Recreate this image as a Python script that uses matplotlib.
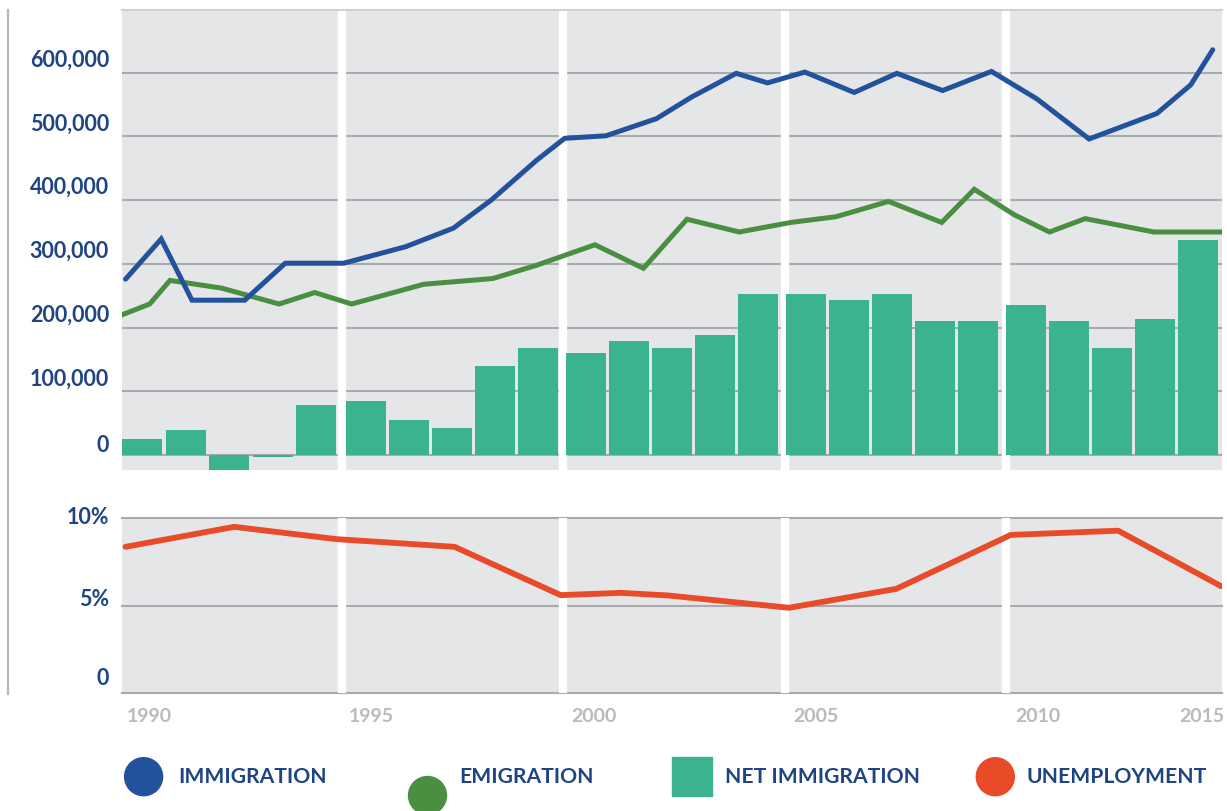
import matplotlib
matplotlib.use("Agg")
import matplotlib.pyplot as plt
from matplotlib import patches, transforms

plt.rcParams['font.family'] = ['Lato', 'DejaVu Sans']

# immigration / emigration lines (year position, persons)
immig_years = [1990.08, 1990.89, 1991.59, 1992.79, 1993.71, 1995.04, 1996.45, 1997.53,
               1998.39, 1999.43, 2000.06, 2001.0, 2002.15, 2002.95, 2003.96, 2004.67,
               2005.52, 2006.64, 2007.61, 2008.65, 2009.76, 2010.79, 2011.98, 2013.52,
               2014.29, 2014.79]
immig = [276000, 339000, 243000, 243000, 301000, 301000, 327000, 356000,
         400000, 463000, 497000, 501000, 528000, 562000, 599000, 584000,
         601000, 569000, 599000, 572000, 602000, 559000, 496000, 536000,
         581000, 636000]

emig_years = [1990.0, 1990.63, 1991.09, 1992.26, 1993.57, 1994.38, 1995.22, 1996.86,
              1998.43, 1999.43, 2000.75, 2001.85, 2002.84, 2004.03, 2005.2, 2006.23,
              2007.42, 2008.63, 2009.37, 2010.28, 2011.08, 2011.89, 2013.45, 2015.0]
emig = [220000, 237000, 274000, 262000, 237000, 255000, 237000, 268000,
        277000, 298000, 330000, 293000, 370000, 350000, 365000, 374000,
        398000, 365000, 417000, 377000, 350000, 371000, 350000, 350000]

# net immigration bars, one per year 1990-2014
bar_years = list(range(1990, 2015))
net_immig = [25000, 40000, -23000, -3000, 78000, 85000, 55000, 42000, 140000, 168000,
             160000, 179000, 168000, 188000, 253000, 253000, 243000, 253000, 210000, 210000,
             235000, 210000, 168000, 213000, 337000]

# unemployment rate (%)
unemp_years = [1990.08, 1992.55, 1994.87, 1997.56, 1999.97, 2001.34, 2002.42,
               2005.16, 2007.6, 2010.2, 2012.64, 2014.98]
unemp = [8.34, 9.48, 8.78, 8.34, 5.59, 5.72, 5.57, 4.87, 5.95, 9.02, 9.26, 6.1]

top_ticks = [0, 100000, 200000, 300000, 400000, 500000, 600000]
top_labels = ['0', '100,000', '200,000', '300,000', '400,000', '500,000', '600,000']
bot_ticks = [0, 5, 10]
bot_labels = ['0', '5%', '10%']
year_ticks = [1990, 1995, 2000, 2005, 2010, 2015]

BLUE = '#23529c'
GREEN = '#4a8f41'
TEAL = '#3ab38e'
RED = '#e84b28'
BG = '#e5e6e8'
GRID = '#a9aaad'
NAVY = '#1e4482'
LIGHT = '#b9babd'

W, H = 1227, 811
fig = plt.figure(figsize=(W / 100, H / 100), dpi=100)

ax1 = fig.add_axes([122 / W, 1 - 470 / H, 1100 / W, 460 / H])
ax2 = fig.add_axes([122 / W, 1 - 693.3 / H, 1100 / W, 175.6 / H])

# white separators between the 5-year blocks
band_x = [1995.0, 2000.02, 2005.07, 2010.1]
for ax in (ax1, ax2):
    ax.set_facecolor(BG)
    ax.set_xlim(1990, 2015)
    for s in ax.spines.values():
        s.set_visible(False)
    ax.set_xticks([])
    ax.set_yticks([])
    for bx in band_x:
        ax.axvline(bx, color='white', lw=6, zorder=2)

ax1.set_ylim(-23500, 698400)
ax1.spines['top'].set_visible(True)
ax1.spines['top'].set_color('#d0d1d4')
ax1.spines['top'].set_linewidth(1.5)
for t in top_ticks:
    ax1.axhline(t, color=GRID, lw=1.5, zorder=1)

# bars sit inside each block, a little clear of the separators
bar_x = []
for i, y in enumerate(bar_years):
    k, j = divmod(i, 5)
    left = 1990 + 5 * k + (0.1 if k else 0.0) + (0.975 if k else 0.99) * j
    bar_x.append(left + 0.455)
ax1.bar(bar_x, net_immig, width=0.91, color=TEAL, zorder=3)
ax1.plot(emig_years, emig, color=GREEN, lw=3.6, zorder=4, solid_joinstyle='miter')
ax1.plot(immig_years, immig, color=BLUE, lw=3.6, zorder=5, solid_capstyle='round',
         solid_joinstyle='miter')

ax2.set_ylim(0, 10)
for t in bot_ticks:
    ax2.axhline(t, color=GRID, lw=1.5, zorder=1, clip_on=False)
ax2.plot(unemp_years, unemp, color=RED, lw=4.2, zorder=4, solid_capstyle='round')

# y labels
tr1 = transforms.blended_transform_factory(ax1.transAxes, ax1.transData)
for t, lab in zip(top_ticks, top_labels):
    dy = 3 if t == 0 else 6
    ax1.text(0, t, lab, transform=transforms.offset_copy(tr1, fig, x=-13, y=dy, units='dots'),
             ha='right', va='baseline', fontsize=15.5, fontweight='bold', color=NAVY)

tr2 = transforms.blended_transform_factory(ax2.transAxes, ax2.transData)
bot_va = ['baseline', 'baseline', 'center']
bot_dy = [8, 0, 0]
for t, lab, va, dy in zip(bot_ticks, bot_labels, bot_va, bot_dy):
    ax2.text(0, t, lab, transform=transforms.offset_copy(tr2, fig, x=-13, y=dy, units='dots'),
             ha='right', va=va, fontsize=15.5, fontweight='bold', color=NAVY, clip_on=False)

# x labels
trx = transforms.blended_transform_factory(ax2.transData, ax2.transAxes)
for i, yr in enumerate(year_ticks):
    if yr == 2015:
        x, ha = 2015 + 0.06, 'right'
    else:
        x, ha = yr + 0.1 + 0.05 * i, 'left'
    ax2.text(x, 0, str(yr), transform=transforms.offset_copy(trx, fig, x=0, y=-28.7, units='dots'),
             ha=ha, va='baseline', fontsize=14, fontweight='bold', color=LIGHT, clip_on=False)

# overlay for left rule and legend
ov = fig.add_axes([0, 0, 1, 1], zorder=-1)
ov.set_xlim(0, W)
ov.set_ylim(H, 0)
ov.axis('off')
ov.plot([8, 8], [10, 694], color='#b7b8bb', lw=1.6)

lg = fig.add_axes([0, 0, 1, 1])
lg.set_xlim(0, W)
lg.set_ylim(H, 0)
lg.axis('off')
lg.patch.set_alpha(0)
lg.add_patch(patches.Circle((143.6, 776.7), 19, color=BLUE))
lg.add_patch(patches.Circle((427.5, 795.5), 19, color=GREEN))
lg.add_patch(patches.Rectangle((672, 757), 40, 39, color=TEAL))
lg.add_patch(patches.Circle((995.3, 776.7), 19, color=RED))
for x, lab in [(178, 'IMMIGRATION'), (459, 'EMIGRATION'), (725, 'NET IMMIGRATION'),
               (1026, 'UNEMPLOYMENT')]:
    lg.text(x, 783.3, lab, ha='left', va='baseline', fontsize=15.2, fontweight='bold', color=NAVY)

plt.savefig('out.png', dpi=100)
